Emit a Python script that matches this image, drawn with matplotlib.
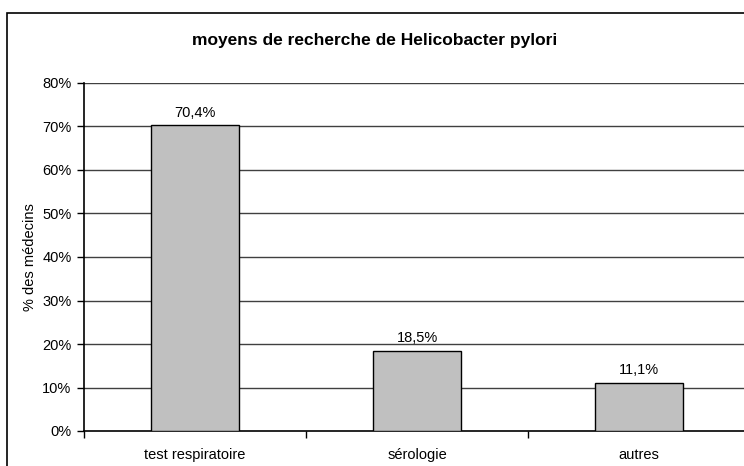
import matplotlib
matplotlib.use('Agg')
import matplotlib.pyplot as plt
import matplotlib.patches as patches
import numpy as np

plt.rcParams['font.family'] = ['Liberation Sans', 'DejaVu Sans']

categories = ['test respiratoire', 'sérologie', 'autres']
values = [70.4, 18.5, 11.1]
labels = ['70,4%', '18,5%', '11,1%']
yticks = [0, 10, 20, 30, 40, 50, 60, 70, 80]

W, H = 744, 466
fig = plt.figure(figsize=(W / 100, H / 100), dpi=100)
fig.patch.set_facecolor('white')

# cadre du graphique (déborde à droite et en bas)
frame = patches.Rectangle((7 / W, -0.1), 1.2, 1 - 13 / H + 0.1,
                          transform=fig.transFigure, fill=False,
                          edgecolor='black', linewidth=1.2)
fig.patches.append(frame)

ax = fig.add_axes([84 / W, 1 - 431 / H, (750 - 84) / W, (431 - 83) / H])
x = np.arange(len(categories))
ax.bar(x, values, width=0.4, color='#C0C0C0', edgecolor='black',
       linewidth=1, zorder=3)
for xi, v, lab in zip(x, values, labels):
    ax.text(xi, v + 1.2, lab, ha='center', va='bottom', fontsize=10.5)

ax.set_xlim(-0.5, len(categories) - 0.5)
ax.set_ylim(0, 80)
ax.set_yticks(yticks)
ax.set_yticklabels([f'{t}%' for t in yticks], fontsize=10.5)
for t in yticks[1:]:
    ax.axhline(t, color='#404040', linewidth=1, zorder=1)

ax.set_xticks(x)
ax.set_xticklabels(categories, fontsize=10.5)
ax.set_xticks(np.arange(len(categories) + 1) - 0.5, minor=True)
ax.tick_params(axis='x', which='major', length=0, pad=12)
ax.tick_params(axis='x', which='minor', length=5, direction='out', width=1)
ax.tick_params(axis='y', length=5, direction='out', width=1, pad=4)

for s in ['top', 'right']:
    ax.spines[s].set_visible(False)
ax.spines['left'].set_linewidth(1.2)
ax.spines['bottom'].set_linewidth(1.2)

ax.set_ylabel('% des médecins', fontsize=10.5, labelpad=4)
fig.text(375 / W, 1 - 40 / H, 'moyens de recherche de Helicobacter pylori',
         ha='center', va='center', fontsize=12.5, fontweight='bold')

fig.savefig('out.png', dpi=100, facecolor='white')
